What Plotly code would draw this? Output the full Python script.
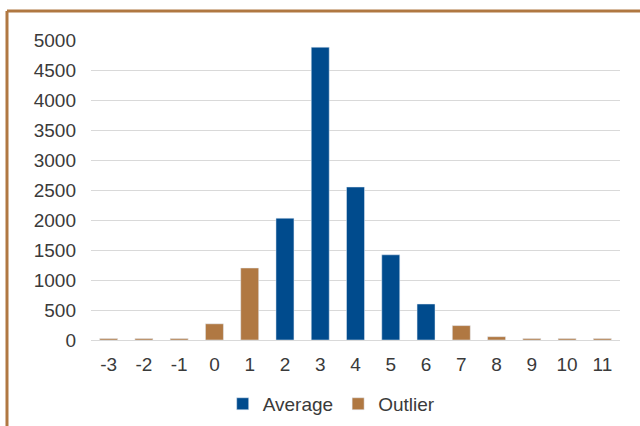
import plotly.graph_objects as go

categories = ["-3", "-2", "-1", "0", "1", "2", "3", "4", "5", "6", "7", "8", "9", "10", "11"]
average = [None, None, None, None, None, 2030, 4880, 2550, 1420, 600, None, None, None, None, None]
outlier = [25, 25, 25, 270, 1200, None, None, None, None, None, 240, 55, 25, 25, 25]
y_ticks = [0, 500, 1000, 1500, 2000, 2500, 3000, 3500, 4000, 4500, 5000]

blue = "#004B8D"
brown = "#B07842"
font = "Liberation Sans, Arial, sans-serif"

fig = go.Figure()
fig.add_trace(go.Bar(x=categories, y=average, name="Average", marker_color=blue))
fig.add_trace(go.Bar(x=categories, y=outlier, name="Outlier", marker_color=brown))

fig.update_layout(
    width=640, height=426,
    margin=dict(l=91, r=20, t=40, b=86, autoexpand=False),
    paper_bgcolor="white", plot_bgcolor="white",
    barmode="overlay", bargap=0.49,
    font=dict(family=font, size=19, color="#3A3A3A"),
    showlegend=True,
    legend=dict(orientation="h", x=0.455, xanchor="center", y=-0.213, yanchor="middle",
                font=dict(size=19, color="#3A3A3A"), itemwidth=30),
    xaxis=dict(type="category", showgrid=False, showline=False, ticks="",
               ticklabelstandoff=11),
    yaxis=dict(range=[0, 5000], tickvals=y_ticks, showgrid=True, gridcolor="#D9D9D9",
               gridwidth=1, zeroline=True, zerolinecolor="#D9D9D9", zerolinewidth=1,
               showline=False, ticks="", ticklabelstandoff=14),
    shapes=[
        dict(type="line", xref="paper", yref="paper", x0=-0.1588, x1=1.05,
             y0=1.0967, y1=1.0967, line=dict(color=brown, width=3)),
        dict(type="line", xref="paper", yref="paper", x0=-0.1588, x1=-0.1588,
             y0=1.0967, y1=-0.30, line=dict(color=brown, width=3)),
    ],
)

fig.write_html("out.html")
